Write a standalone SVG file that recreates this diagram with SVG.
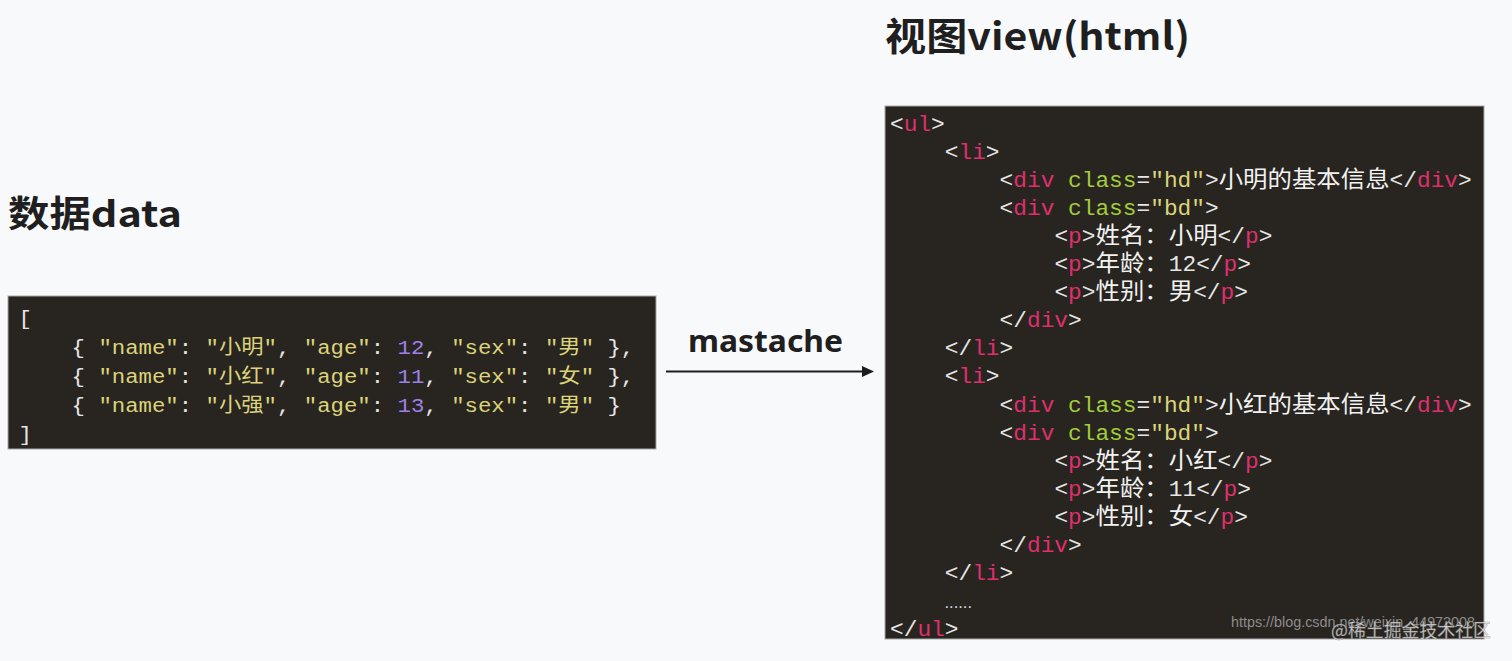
<svg xmlns="http://www.w3.org/2000/svg" width="1512" height="661" viewBox="0 0 1512 661">
<style>
.title{font-family:"Noto Sans CJK SC","Noto Sans",sans-serif;font-weight:700;fill:#1f1f1f}
.box{fill:#282520;stroke:#a9a9a9;stroke-width:1}
.c{font-family:"Liberation Mono","Noto Sans CJK SC",monospace;white-space:pre;fill:#e6e6e6}
.l{font-size:20.4px}
.r{font-size:21.5px}
.t{fill:#df2f6c}
.a{fill:#a3cd3c}
.s{fill:#dcd37a}
.n{fill:#9e80ea}
.z{font-family:"Noto Sans CJK SC",sans-serif;font-size:23px;fill:#f2f2f2}
</style>
<rect width="1512" height="661" fill="#f8f9fb"/>

<g id="data">
<text class="title" x="8" y="227" font-size="36" textLength="174" lengthAdjust="spacingAndGlyphs">数据data</text>
<rect class="box" x="8" y="296" width="648" height="153"/>
<text class="c l" transform="translate(18.4,325) scale(1.095,1)">[</text>
<text class="c l" transform="translate(71.6,354) scale(1.095,1)">{ <tspan class="s">"name"</tspan>: <tspan class="s">"小明"</tspan>, <tspan class="s">"age"</tspan>: <tspan class="n">12</tspan>, <tspan class="s">"sex"</tspan>: <tspan class="s">"男"</tspan> },</text>
<text class="c l" transform="translate(71.6,383) scale(1.095,1)">{ <tspan class="s">"name"</tspan>: <tspan class="s">"小红"</tspan>, <tspan class="s">"age"</tspan>: <tspan class="n">11</tspan>, <tspan class="s">"sex"</tspan>: <tspan class="s">"女"</tspan> },</text>
<text class="c l" transform="translate(71.6,412) scale(1.095,1)">{ <tspan class="s">"name"</tspan>: <tspan class="s">"小强"</tspan>, <tspan class="s">"age"</tspan>: <tspan class="n">13</tspan>, <tspan class="s">"sex"</tspan>: <tspan class="s">"男"</tspan> }</text>
<text class="c l" transform="translate(18.4,441) scale(1.095,1)">]</text>
</g>

<g id="view">
<text class="title" x="885" y="50" font-size="38" textLength="305" lengthAdjust="spacingAndGlyphs">视图view(html)</text>
<rect class="box" x="885" y="106" width="599" height="533"/>
<text class="c r" transform="translate(890,130.5) scale(1.062,1)">&lt;<tspan class="t">ul</tspan>&gt;</text>
<text class="c r" transform="translate(944.8,158.6) scale(1.062,1)">&lt;<tspan class="t">li</tspan>&gt;</text>
<text class="c r" transform="translate(999.6,186.7) scale(1.062,1)">&lt;<tspan class="t">div</tspan> <tspan class="a">class</tspan>=<tspan class="s">"hd"</tspan>&gt;<tspan class="z">小明的基本信息</tspan>&lt;/<tspan class="t">div</tspan>&gt;</text>
<text class="c r" transform="translate(999.6,214.8) scale(1.062,1)">&lt;<tspan class="t">div</tspan> <tspan class="a">class</tspan>=<tspan class="s">"bd"</tspan>&gt;</text>
<text class="c r" transform="translate(1054.4,242.9) scale(1.062,1)">&lt;<tspan class="t">p</tspan>&gt;<tspan class="z">姓名：小明</tspan>&lt;/<tspan class="t">p</tspan>&gt;</text>
<text class="c r" transform="translate(1054.4,271) scale(1.062,1)">&lt;<tspan class="t">p</tspan>&gt;<tspan class="z">年龄：</tspan>12&lt;/<tspan class="t">p</tspan>&gt;</text>
<text class="c r" transform="translate(1054.4,299.1) scale(1.062,1)">&lt;<tspan class="t">p</tspan>&gt;<tspan class="z">性别：男</tspan>&lt;/<tspan class="t">p</tspan>&gt;</text>
<text class="c r" transform="translate(999.6,327.2) scale(1.062,1)">&lt;/<tspan class="t">div</tspan>&gt;</text>
<text class="c r" transform="translate(944.8,355.3) scale(1.062,1)">&lt;/<tspan class="t">li</tspan>&gt;</text>
<text class="c r" transform="translate(944.8,383.4) scale(1.062,1)">&lt;<tspan class="t">li</tspan>&gt;</text>
<text class="c r" transform="translate(999.6,411.5) scale(1.062,1)">&lt;<tspan class="t">div</tspan> <tspan class="a">class</tspan>=<tspan class="s">"hd"</tspan>&gt;<tspan class="z">小红的基本信息</tspan>&lt;/<tspan class="t">div</tspan>&gt;</text>
<text class="c r" transform="translate(999.6,439.6) scale(1.062,1)">&lt;<tspan class="t">div</tspan> <tspan class="a">class</tspan>=<tspan class="s">"bd"</tspan>&gt;</text>
<text class="c r" transform="translate(1054.4,467.7) scale(1.062,1)">&lt;<tspan class="t">p</tspan>&gt;<tspan class="z">姓名：小红</tspan>&lt;/<tspan class="t">p</tspan>&gt;</text>
<text class="c r" transform="translate(1054.4,495.8) scale(1.062,1)">&lt;<tspan class="t">p</tspan>&gt;<tspan class="z">年龄：</tspan>11&lt;/<tspan class="t">p</tspan>&gt;</text>
<text class="c r" transform="translate(1054.4,523.9) scale(1.062,1)">&lt;<tspan class="t">p</tspan>&gt;<tspan class="z">性别：女</tspan>&lt;/<tspan class="t">p</tspan>&gt;</text>
<text class="c r" transform="translate(999.6,552) scale(1.062,1)">&lt;/<tspan class="t">div</tspan>&gt;</text>
<text class="c r" transform="translate(944.8,580.1) scale(1.062,1)">&lt;/<tspan class="t">li</tspan>&gt;</text>
<text x="944.5" y="608" font-family="Liberation Sans, sans-serif" font-size="16.5" fill="#dddddd">......</text>
<text class="c r" transform="translate(890,636.3) scale(1.062,1)">&lt;/<tspan class="t">ul</tspan>&gt;</text>
</g>

<g id="connectors">
<line x1="666" y1="371.5" x2="864" y2="371.5" stroke="#1c1c1c" stroke-width="2"/>
<polygon points="862,366 874,371.5 862,377" fill="#1c1c1c"/>
<text x="688" y="352" font-family="Noto Sans, sans-serif" font-weight="700" font-size="31" fill="#1f1f1f" textLength="155" lengthAdjust="spacingAndGlyphs">mastache</text>
</g>

<g id="watermark">
<text x="1231" y="627" font-family="Liberation Sans, sans-serif" font-size="15.5" fill="#8c8c8c" textLength="244" lengthAdjust="spacingAndGlyphs">https://blog.csdn.net/weixin_44972008</text>
<text x="1331" y="637" font-family="Noto Sans CJK SC, sans-serif" font-size="18" fill="#ffffff" fill-opacity="0.75" stroke="#6e6e6e" stroke-width="0.5" stroke-opacity="0.7" textLength="160" lengthAdjust="spacingAndGlyphs">@稀土掘金技术社区</text>
</g>
</svg>
